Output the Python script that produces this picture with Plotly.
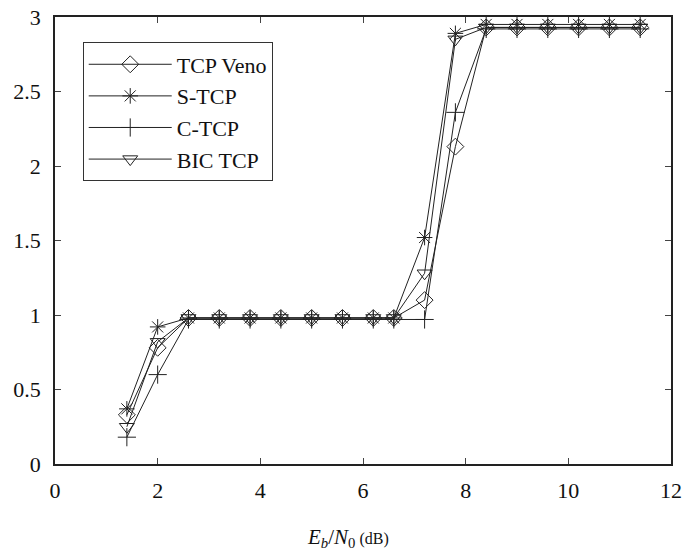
import plotly.graph_objects as go

x_vals = [1.4, 2.0, 2.6, 3.2, 3.8, 4.4, 5.0, 5.6, 6.2, 6.6, 7.2, 7.8, 8.4, 9.0, 9.6, 10.2, 10.8, 11.4]
veno = [0.33, 0.78, 0.98, 0.98, 0.98, 0.98, 0.98, 0.98, 0.98, 0.98, 1.10, 2.13, 2.93, 2.93, 2.93, 2.93, 2.93, 2.93]
stcp = [0.37, 0.92, 0.98, 0.98, 0.98, 0.98, 0.98, 0.98, 0.98, 0.98, 1.52, 2.89, 2.95, 2.95, 2.95, 2.95, 2.95, 2.95]
ctcp = [0.18, 0.60, 0.97, 0.97, 0.97, 0.97, 0.97, 0.97, 0.97, 0.97, 0.97, 2.36, 2.92, 2.92, 2.92, 2.92, 2.92, 2.92]
bic = [0.25, 0.82, 0.98, 0.98, 0.98, 0.98, 0.98, 0.98, 0.98, 0.98, 1.28, 2.85, 2.93, 2.93, 2.93, 2.93, 2.93, 2.93]

names = ["TCP Veno", "S-TCP", "C-TCP", "BIC TCP"]
series = [veno, stcp, ctcp, bic]
symbols = ["diamond-open", "asterisk-open", "cross-thin-open", "triangle-down-open"]
sizes = [13, 13, 13, 13]

ink = "#222222"
fig = go.Figure()
for n, s, sym, sz in zip(names, series, symbols, sizes):
    fig.add_trace(go.Scatter(
        x=x_vals, y=s, name=n, mode="lines+markers",
        line=dict(color=ink, width=1),
        marker=dict(symbol=sym, size=sz, color=ink, line=dict(color=ink, width=1)),
        cliponaxis=False,
    ))

font_family = "Liberation Serif, Times New Roman, serif"
fig.update_layout(
    width=687, height=555,
    margin=dict(l=55, r=15, t=5, b=91),
    paper_bgcolor="white", plot_bgcolor="white",
    font=dict(family=font_family, size=22, color="#111"),
    showlegend=True,
    legend=dict(
        x=0.045, y=0.943, xanchor="left", yanchor="top",
        bordercolor="#333", borderwidth=1, bgcolor="white",
        font=dict(family=font_family, size=22, color="#111"),
        itemwidth=83, tracegroupgap=0,
    ),
    xaxis=dict(
        range=[0, 12], dtick=2, tick0=0,
        showline=True, linecolor="#222", linewidth=2, mirror="ticks",
        ticks="inside", ticklen=6, tickcolor="#444", tickwidth=1,
        showgrid=False, zeroline=False,
        tickfont=dict(family=font_family, size=22, color="#111"),
        ticklabelstandoff=6,
    ),
    yaxis=dict(
        range=[0, 3], dtick=0.5, tick0=0,
        showline=True, linecolor="#222", linewidth=1.5, mirror="ticks",
        ticks="inside", ticklen=6, tickcolor="#444", tickwidth=1,
        showgrid=False, zeroline=False,
        tickfont=dict(family=font_family, size=22, color="#111"),
        ticklabelstandoff=8, ticklabeloverflow="allow",
    ),
    annotations=[dict(
        xref="paper", yref="paper", x=0.475, y=-0.165,
        xanchor="center", yanchor="middle", showarrow=False,
        text="<i>E</i><sub><i>b</i></sub>/<i>N</i><sub>0</sub><span style='font-size:16px'> (dB)</span>",
        font=dict(family=font_family, size=21, color="#111"),
    )],
)

fig.write_html("out.html")
